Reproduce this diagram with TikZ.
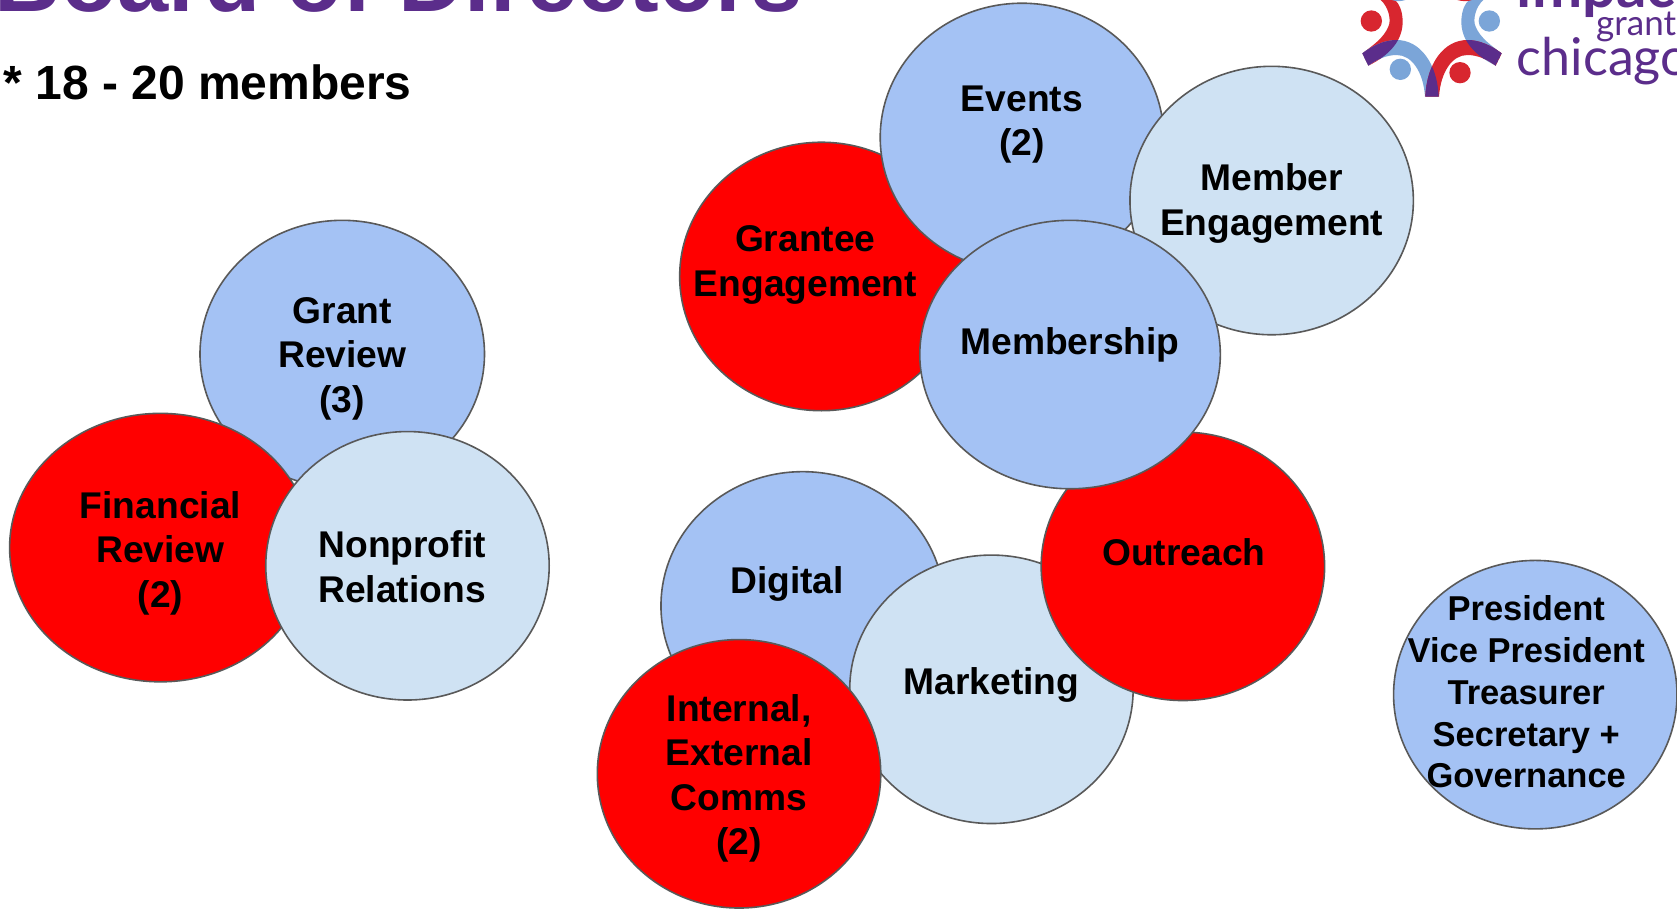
\documentclass[tikz,border=0pt]{standalone}
\usepackage{fontspec}
\setmainfont{Liberation Sans}
\newfontfamily\logofont{Lato}
\usetikzlibrary{shapes.geometric}
\definecolor{bubblue}{HTML}{A4C2F4}
\definecolor{bublight}{HTML}{CFE2F3}
\definecolor{bubred}{HTML}{FF0000}
\definecolor{titlepurple}{HTML}{5B2D8B}
\definecolor{logored}{HTML}{D8262F}
\definecolor{logoblue}{HTML}{7BA5D8}
\definecolor{bubline}{HTML}{595959}
\tikzset{
  bubble/.style={ellipse,draw=bubline,line width=1.6pt,inner sep=0pt,outer sep=0pt},
  bubtext/.style={align=center,font=\fontsize{37.2}{44.5}\selectfont\bfseries,inner sep=0pt},
  officertext/.style={align=center,font=\fontsize{34.5}{41.8}\selectfont\bfseries,inner sep=0pt}
}
% name, colour, cx, cy, rx, ry
\newcommand{\bub}[6]{%
  \pgfmathsetmacro{\bw}{2*#5*1.0695}\pgfmathsetmacro{\bh}{2*#6*1.0695}%
  \node[bubble,fill=#2,minimum width=\bw pt,minimum height=\bh pt] (#1) at (#3,#4) {};}
\newcommand{\lblue}{(67,160) .. controls (100,135) and (135,120) .. (170,120) .. controls (240,120) and (292,190) .. (296,290) -- (255,290) .. controls (250,215) and (215,165) .. (170,165) .. controls (140,165) and (110,178) .. (85,197) -- cycle}
\newcommand{\lred}{(122,0) .. controls (145,20) and (155,60) .. (145,80) .. controls (130,115) and (100,135) .. (67,160) -- (85,197) .. controls (150,165) and (190,120) .. (188,60) .. controls (186,30) and (178,12) .. (165,0) -- cycle}
\begin{document}
\begin{tikzpicture}[x=1.0695pt,y=-1.0695pt]
\useasboundingbox (0,0) rectangle (1568,849);
\clip (0,0) rectangle (1568,849);
\fill[white] (0,0) rectangle (1568,849);
% heading
\node[anchor=base west,inner sep=0pt,text=titlepurple,font=\fontsize{92}{92}\selectfont\bfseries] (title) at (-5,11) {Board of Directors};
\node[anchor=base west,inner sep=0pt,font=\fontsize{48}{48}\selectfont\bfseries] (members) at (3,93) {* 18 - 20 members};
% logo
\begin{scope}[shift={(1252.9,0)},x=0.33333pt,y=-0.33333pt]
  \fill[logored] (94,63) circle (32);
  \fill[logoblue] (448,63) circle (32);
  \fill[logoblue] (181,208) circle (32);
  \fill[logored] (360,218) circle (32);
  \fill[logored] \lred;
  \fill[logoblue] \lblue;
  \fill[logoblue] (140,-10) .. controls (160,8) and (190,8) .. (215,-10) -- cycle;
  \begin{scope}\clip \lred; \fill[titlepurple] \lblue; \end{scope}
  \begin{scope}[cm={-1,0,0,1,(184pt,0)}]
    \fill[logoblue] \lred;
    \fill[logored] \lblue;
    \fill[logored] (140,-10) .. controls (160,8) and (190,8) .. (225,-10) -- cycle;
    \begin{scope}\clip \lred; \fill[titlepurple] \lblue; \end{scope}
    \begin{scope}[cm={-1,0,0,1,(184pt,0)}]
      \clip \lblue;
      \begin{scope}[cm={-1,0,0,1,(184pt,0)}]
        \fill[titlepurple] \lblue;
      \end{scope}
    \end{scope}
  \end{scope}
  \node[anchor=base west,inner sep=0pt,text=titlepurple,font=\logofont\bfseries\fontsize{60}{60}\selectfont] (impact) at (530,22) {impact};
  \node[anchor=base west,inner sep=0pt,text=titlepurple,font=\logofont\fontsize{35}{35}\selectfont] (grant) at (768,105) {grant};
  \node[anchor=base west,inner sep=0pt,text=titlepurple,font=\logofont\fontsize{52}{52}\selectfont] (chicago) at (530,225) {chicago};
\end{scope}
% left cluster
\bub{grantreview}{bubblue}{320}{331}{133}{125}
\node[bubtext] (grantreviewt) at (320,335.5) {Grant\\Review\\(3)};
\bub{financial}{bubred}{150}{512}{141}{125.5}
\node[bubtext] (financialt) at (150,517) {Financial\\Review\\(2)};
\bub{nonprofit}{bublight}{381}{529}{132.5}{125.5}
\node[bubtext] (nonprofitt) at (376,530) {Nonprofit\\Relations};
% upper cluster
\bub{grantee}{bubred}{768}{258.5}{132.5}{125.5}
\node[bubtext] (granteet) at (753,247.5) {Grantee\\Engagement};
\bub{events}{bubblue}{955.5}{128.5}{132.5}{125.5}
\node[bubtext] (eventst) at (955.5,116.5) {Events\\(2)};
\bub{memberengagement}{bublight}{1189}{187.5}{132.5}{125.5}
\node[bubtext] (memberengagementt) at (1189,190) {Member\\Engagement};
% lower cluster
\bub{digital}{bubblue}{750.5}{566.5}{132.5}{125.5}
\node[bubtext] (digitalt) at (736,546) {Digital};
\bub{marketing}{bublight}{927}{644.5}{132.5}{125.5}
\node[bubtext] (marketingt) at (927,640.5) {Marketing};
\bub{outreach}{bubred}{1106}{529.5}{132.5}{125.5}
\node[bubtext] (outreacht) at (1107,516) {Outreach};
\bub{membership}{bubblue}{1000.5}{331.5}{140.5}{125.5}
\node[bubtext] (membershipt) at (1000.5,322) {Membership};
\bub{internal}{bubred}{691}{723.5}{132.5}{125.5}
\node[bubtext] (internalt) at (691,728) {Internal,\\External\\Comms\\(2)};
% officers
\bub{officers}{bubblue}{1435.5}{649.5}{132.5}{125.5}
\node[officertext] (officerst) at (1427,647) {President\\Vice President\\Treasurer\\Secretary +\\Governance};
\end{tikzpicture}
\end{document}
